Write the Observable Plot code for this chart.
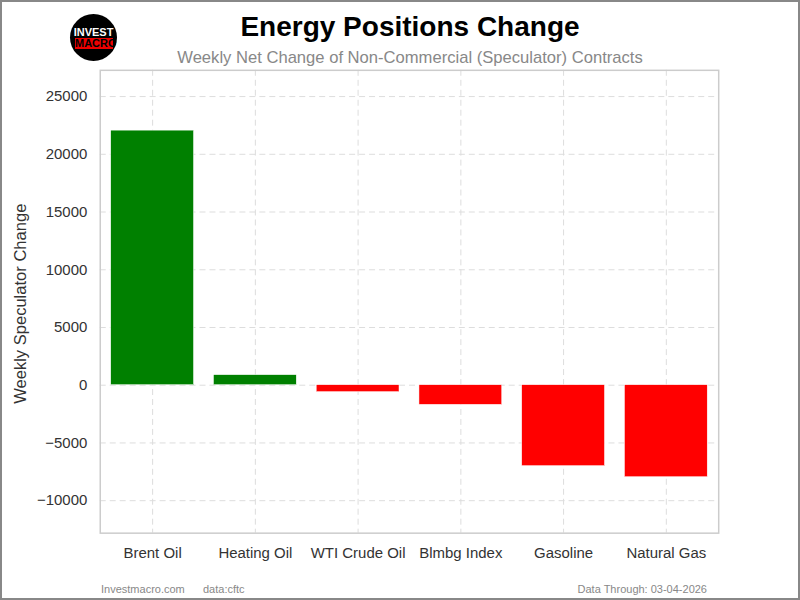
<!DOCTYPE html>
<html>
<head>
<meta charset="utf-8">
<script src="https://cdn.jsdelivr.net/npm/d3@7"></script>
<script src="https://cdn.jsdelivr.net/npm/@observablehq/plot@0.6"></script>
<style>
  body { margin: 0; background: #fff; font-family: "Liberation Sans", Arial, sans-serif; }
  #wrap { position: relative; width: 800px; height: 600px; box-sizing: border-box; border: 2px solid #888; overflow: hidden; background: #fff; }
  #chart { position: absolute; left: -2px; top: -2px; }
  .t { position: absolute; white-space: nowrap; }
  #title { left: -2px; width: 820px; text-align: center; top: 9px; font-size: 28px; font-weight: bold; color: #000; }
  #subtitle { left: -2px; width: 820px; text-align: center; top: 46px; font-size: 16.6px; color: #888; }
  .foot { top: 581px; font-size: 11px; color: #888; }
  #logo { position: absolute; left: 68px; top: 12px; width: 47px; height: 47px; border-radius: 50%; background: #000; }
  #logo .l1 { position: absolute; left: 0; width: 47px; top: 13px; text-align: center; color: #fff; font-weight: bold; font-size: 11px; line-height: 11px; }
  #logo .l2 { position: absolute; left: 5px; width: 38px; top: 24px; text-align: center; color: #000; background: #e00; font-weight: bold; font-size: 11px; line-height: 11px; }
</style>
</head>
<body>
<div id="wrap">
  <div id="chart"></div>
  <div id="logo"><div class="l1">INVEST</div><div class="l2">MACRO</div></div>
  <div class="t" id="title">Energy Positions Change</div>
  <div class="t" id="subtitle">Weekly Net Change of Non-Commercial (Speculator) Contracts</div>
  <div class="t foot" style="left:99px">Investmacro.com</div>
  <div class="t foot" style="left:201px">data:cftc</div>
  <div class="t foot" style="right:91px">Data Through: 03-04-2026</div>
</div>
<script>
const categories = ["Brent Oil", "Heating Oil", "WTI Crude Oil", "Blmbg Index", "Gasoline", "Natural Gas"];
const changes = [22050, 870, -600, -1700, -7010, -7970];
const yTicks = [-10000, -5000, 0, 5000, 10000, 15000, 20000, 25000];

const data = categories.map((c, i) => ({category: c, value: changes[i]}));
const fmt = d => d < 0 ? "\u2212" + Math.abs(d) : String(d);

const chart = Plot.plot({
  width: 800,
  height: 600,
  marginTop: 70,
  marginBottom: 66,
  marginLeft: 100,
  marginRight: 80,
  style: {fontFamily: "'Liberation Sans', Arial, sans-serif", fontSize: "15px", color: "#333", background: "transparent"},
  x: {domain: categories, paddingInner: 0.19, paddingOuter: 0.095, label: null, tickSize: 0, tickPadding: 14},
  y: {domain: [-12814, 27273], ticks: yTicks, label: null, tickSize: 0, tickPadding: 13, tickFormat: fmt},
  marks: [
    Plot.gridY(yTicks, {stroke: "#ddd", strokeOpacity: 1, strokeDasharray: "6,4", strokeWidth: 1}),
    Plot.gridX(categories, {stroke: "#ddd", strokeOpacity: 1, strokeDasharray: "6,4", strokeWidth: 1}),
    Plot.barY(data, {x: "category", y: "value", fill: d => d.value >= 0 ? "green" : "red", stroke: "#fff", strokeWidth: 0.5}),
    Plot.frame({stroke: "#ccc", strokeWidth: 1.5}),
    Plot.axisY({ticks: yTicks, tickSize: 0, tickPadding: 13, label: null, fontSize: 15, tickFormat: fmt}),
    Plot.axisX({tickSize: 0, tickPadding: 14, label: null, fontSize: 15}),
    Plot.text(["Weekly Speculator Change"], {frameAnchor: "left", dx: -80, dy: 2, rotate: -90, textAnchor: "middle", fontSize: 16.6, fill: "#333"})
  ]
});
document.getElementById("chart").appendChild(chart);
</script>
</body>
</html>
